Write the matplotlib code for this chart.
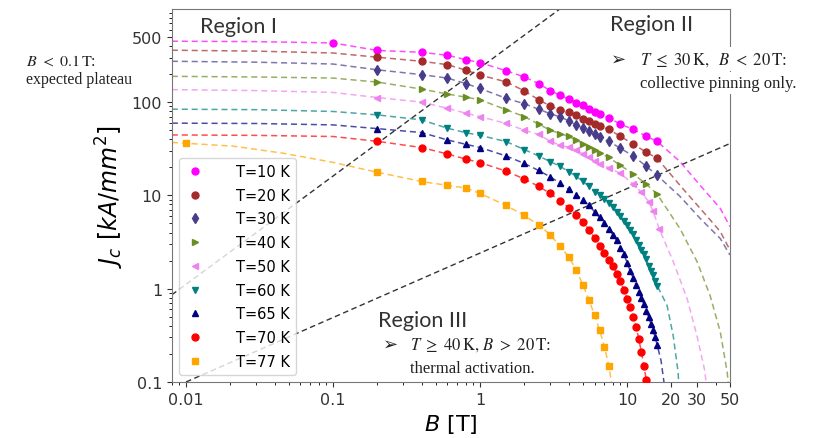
import matplotlib.pyplot as plt

# magnetic field values [T] of the measured points
b_10 = [0.1, 0.2, 0.4, 0.6, 0.8, 1, 1.5, 2, 2.5, 3, 3.5, 4, 4.5, 5, 5.5, 6, 6.5, 7.5, 9, 11, 13.5, 16]
b_mid = [0.2, 0.4, 0.6, 0.8, 1, 1.5, 2, 2.5, 3, 3.5, 4, 4.5, 5, 5.5, 6, 6.5, 7.5, 9, 11, 13.5, 16]
b_50 = [0.2, 0.4, 0.6, 0.8, 1, 1.5, 2, 2.5, 3, 3.5, 4, 4.5, 5, 5.5, 6, 6.5, 7.5, 9, 11, 12.5, 14, 15, 16.5]
b_60 = [0.2, 0.4, 0.6, 0.8, 1, 1.5, 2, 2.5, 3, 3.5, 4, 4.5, 5, 5.5, 6, 6.5, 7, 7.5, 8, 8.5, 9, 9.5,
        10, 10.5, 11, 11.5, 12, 12.5, 13, 13.5, 14, 14.5, 15, 15.5, 16]
b_70 = [0.2, 0.4, 0.6, 0.8, 1, 1.5, 2, 2.5, 3, 3.5, 4, 4.5, 5, 5.5, 6, 6.5, 7, 7.5, 8, 8.5, 9, 9.5,
        10, 10.5, 11, 11.5, 12, 12.5, 13, 13.5]
b_77 = [0.01, 0.2, 0.4, 0.6, 0.8, 1, 1.5, 2, 2.5, 3, 3.5, 4, 4.5, 5, 5.5, 6, 6.5, 7, 7.5]

# critical current density [kA/mm^2]
jc_10 = [431, 358, 342, 318, 285, 265, 217, 186, 158, 133, 118, 108, 99, 92, 85, 79, 74, 68, 58, 51, 43, 38]
jc_20 = [303, 274, 252, 220, 195, 165, 132, 106, 91, 82, 78, 72, 66, 62, 58, 55, 51, 43, 35.5, 29, 25]
jc_30 = [222, 197, 181, 158, 140, 110, 96, 84, 75, 69.5, 63, 57, 52.5, 48.5, 45, 42, 38, 32, 26.5, 20.5, 16.4]
jc_40 = [164, 138, 122, 113, 106, 83, 70, 58, 50, 46, 43, 39, 36, 33, 30.5, 28.5, 25.5, 21, 17, 13.2, 10.3]
jc_50 = [112, 100, 86, 76, 70, 59, 50, 45, 38, 34.5, 33, 30.5, 28, 25.5, 23.3, 21.8, 19.8, 17.2, 13.2,
         10.8, 8.6, 6.8, 4.4]
jc_60 = [73, 64.5, 52.5, 47, 44, 37.8, 31, 26.5, 23, 20.5, 18, 16, 14.2, 12.5, 10.9, 10, 9.1, 8.3, 7.6,
         6.7, 6.0, 5.3, 4.8, 4.3, 3.9, 3.35, 2.95, 2.6, 2.35, 2.1, 1.75, 1.55, 1.4, 1.2, 1.08]
jc_65 = [52, 47.2, 39.3, 35.3, 32.6, 26.5, 22, 18.5, 15.8, 13.5, 11.6, 10.2, 9.0, 7.8, 6.7, 5.8, 5.0, 4.4,
         3.8, 3.3, 2.75, 2.35, 1.9, 1.55, 1.3, 1.1, 0.92, 0.8, 0.68, 0.58, 0.5, 0.42, 0.36, 0.3, 0.25]
jc_70 = [38, 32.6, 27.8, 24.5, 22.5, 18.2, 15, 12.5, 10.5, 8.7, 7.4, 6.2, 5.2, 4.3, 3.5, 2.9, 2.4, 2.05,
         1.75, 1.45, 1.2, 0.97, 0.78, 0.63, 0.5, 0.39, 0.29, 0.21, 0.15, 0.105]
jc_77 = [36.2, 17.7, 14.1, 12.8, 12.0, 10.5, 7.8, 6.1, 4.8, 3.8, 2.85, 2.2, 1.6, 1.1, 0.76, 0.52, 0.36, 0.24, 0.15]

fit_b_10 = [0.008, 0.03, 22.9, 31.4, 43, 50]
fit_j_10 = [450, 445, 23, 12.8, 7.25, 4.64]
fit_b_20 = [0.008, 0.03, 0.1, 22.9, 31.4, 43, 50]
fit_j_20 = [360, 352, 336, 12.8, 7.25, 4.1, 2.6]
fit_b_30 = [0.008, 0.03, 0.1, 22.9, 31.4, 43, 50]
fit_j_30 = [274, 268, 256, 9.75, 5.66, 3.45, 2.3]
fit_b_40 = [0.008, 0.03, 0.1, 22.9, 29.9, 36.7, 43, 47.9, 49]
fit_j_40 = [189, 186, 181, 4.4, 1.95, 0.84, 0.345, 0.128, 0.09]
fit_b_50 = [0.008, 0.03, 0.1, 20.6, 25.6, 29.9, 33.9, 34.5]
fit_j_50 = [136, 133, 127, 1.95, 0.78, 0.31, 0.128, 0.09]
fit_b_60 = [0.008, 0.03, 0.1, 18.7, 20.6, 22.2, 22.5]
fit_j_60 = [84, 83, 79.4, 0.66, 0.31, 0.128, 0.09]
fit_b_65 = [0.008, 0.03, 0.1, 17, 17.8, 18]
fit_j_65 = [59.5, 59, 57, 0.17, 0.1, 0.09]
fit_b_70 = [0.008, 0.03, 0.1, 13.8]
fit_j_70 = [44.5, 44, 42.8, 0.09]
fit_b_77 = [0.008, 0.021, 0.046, 0.1, 7.9]
fit_j_77 = [37, 33.7, 28.3, 22.6, 0.09]

# region boundaries
bound1_b = [0.008, 3.5]
bound1_j = [0.86, 1000]
bound2_b = [0.01, 50]
bound2_j = [0.1, 36]

labels = ['T=10 K', 'T=20 K', 'T=30 K', 'T=40 K', 'T=50 K', 'T=60 K', 'T=65 K', 'T=70 K', 'T=77 K']
colors = ['#ff00ff', '#a52a2a', '#483d8b', '#6b8e23', '#ee82ee', '#008080', '#000080', '#ff0000', '#ffa500']
markers = ['o', 'o', 'd', '>', '<', 'v', '^', 'o', 's']

b_sets = [b_10, b_mid, b_mid, b_mid, b_50, b_60, b_60, b_70, b_77]
jc_sets = [jc_10, jc_20, jc_30, jc_40, jc_50, jc_60, jc_65, jc_70, jc_77]
fit_b = [fit_b_10, fit_b_20, fit_b_30, fit_b_40, fit_b_50, fit_b_60, fit_b_65, fit_b_70, fit_b_77]
fit_j = [fit_j_10, fit_j_20, fit_j_30, fit_j_40, fit_j_50, fit_j_60, fit_j_65, fit_j_70, fit_j_77]

fig = plt.figure(figsize=(8.38, 4.39), dpi=100)
ax = fig.add_axes([0.205, 0.1276, 0.666, 0.85])

for i in range(len(labels)):
    pts = sorted(zip(b_sets[i] + fit_b[i], jc_sets[i] + fit_j[i]))
    ax.plot([p[0] for p in pts], [p[1] for p in pts], color=colors[i], lw=1.1,
            dashes=(4, 2.5), alpha=0.7, zorder=2)
    ax.plot(b_sets[i], jc_sets[i], ls='none', marker=markers[i], color=colors[i],
            ms=5, label=labels[i], zorder=3)

ax.plot(bound1_b, bound1_j, color='#333333', lw=1, dashes=(4, 2.5), zorder=1)
ax.plot(bound2_b, bound2_j, color='#333333', lw=1, dashes=(4, 2.5), zorder=1)

ax.set_xscale('log')
ax.set_yscale('log')
ax.set_xlim(0.008, 50)
ax.set_ylim(0.1, 1000)
ax.set_xticks([0.01, 0.1, 1, 10, 20, 30, 50])
ax.set_xticklabels(['0.01', '0.1', '1', '10', '20', '30', '50'])
ax.set_yticks([0.1, 1, 10, 100, 500])
ax.set_yticklabels(['0.1', '1', '10', '100', '500'])
ax.tick_params(labelsize=11.5, colors='#333333')
for s in ax.spines.values():
    s.set_color('#777777')

ax.set_xlabel(r'$B$ [T]', fontsize=16)
ax.set_ylabel(r'$J_c\ [kA/mm^2]$', fontsize=17)

ax.legend(loc='lower left', fontsize=10.5, labelspacing=0.6, handlelength=1.4,
          handletextpad=2.1, numpoints=1, borderpad=0.4, edgecolor='#cccccc')

sans = ['Lato', 'DejaVu Sans']
serif = ['Liberation Serif', 'DejaVu Serif']
fig.text(0.2387, 0.9385, 'Region I', family=sans, fontsize=15.5, va='center', color='#333333')
fig.text(0.728, 0.943, 'Region II', family=sans, fontsize=15.5, va='center', color='#333333',
         bbox=dict(fc='white', ec='none', pad=1))
fig.text(0.729, 0.863, '\u27a2', family=['DejaVu Sans'], fontsize=13, va='center', color='#222222')
fig.text(0.764, 0.863, r'$T\ \leq\ 30\,\mathrm{K},\ \ B\ <\ 20\,\mathrm{T}$:', family=serif,
         math_fontfamily='stix', fontsize=12, va='center', color='#222222',
         bbox=dict(fc='white', ec='none', pad=2))
fig.text(0.764, 0.809, 'collective pinning only.', family=serif, fontsize=12, va='center',
         color='#222222', bbox=dict(fc='white', ec='none', pad=2))
fig.text(0.451, 0.269, 'Region III', family=sans, fontsize=15.5, va='center', color='#333333')
fig.text(0.457, 0.214, '\u27a2', family=['DejaVu Sans'], fontsize=13, va='center', color='#222222')
fig.text(0.489, 0.214, r'$T\ \geq\ 40\,\mathrm{K},\,B\ >\ 20\,\mathrm{T}$:', family=serif,
         math_fontfamily='stix', fontsize=12, va='center', color='#222222')
fig.text(0.489, 0.159, 'thermal activation.', family=serif, fontsize=12, va='center', color='#222222')
fig.text(0.031, 0.859, r'$B\ <\ 0.1\,\mathrm{T}$:', family=serif, math_fontfamily='stix',
         fontsize=11.5, va='center', color='#222222')
fig.text(0.031, 0.818, 'expected plateau', family=serif, fontsize=11.5, va='center', color='#222222')

fig.savefig('out.png', dpi=100)
